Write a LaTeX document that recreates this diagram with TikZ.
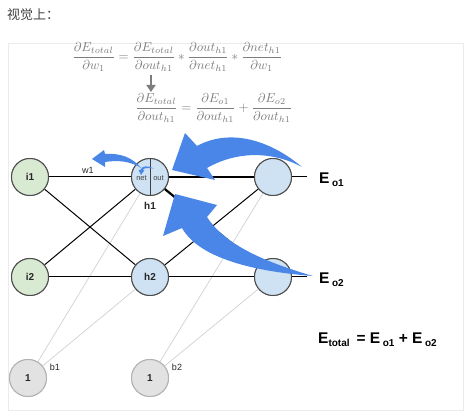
\documentclass[tikz,border=0pt]{standalone}
\usepackage{fontspec}
\setsansfont{Liberation Sans}
\newfontfamily\cjk{Noto Sans CJK SC}
\usepackage{amsmath}
\usetikzlibrary{arrows.meta}
\definecolor{ablue}{RGB}{74,134,232}
\definecolor{ngreen}{RGB}{217,234,211}
\definecolor{nblue}{RGB}{207,226,243}
\definecolor{ngray}{RGB}{226,226,226}
\definecolor{eqgray}{RGB}{125,125,125}
\tikzset{
  neuron/.style={circle, minimum size=37pt, inner sep=0pt, draw=black!70, line width=1pt,
    font=\sffamily\bfseries\fontsize{10}{10}\selectfont, text=black!85},
  inn/.style={neuron, fill=ngreen},
  hid/.style={neuron, fill=nblue},
  bias/.style={neuron, fill=ngray, draw=black!30},
  edge/.style={black, line width=1pt},
  thickedge/.style={black, line width=2.2pt},
  biasedge/.style={black!18, line width=0.7pt},
  lbl/.style={font=\sffamily\fontsize{9}{9}\selectfont, text=black!85, inner sep=1pt},
  blbl/.style={font=\sffamily\bfseries\fontsize{10}{10}\selectfont, text=black!85, inner sep=1pt},
  bigE/.style={font=\sffamily\bfseries\fontsize{15.5}{16}\selectfont, inner sep=0pt, anchor=base west},
  eqn/.style={text=eqgray, inner sep=0pt, anchor=west},
  bluearrow/.style={fill=ablue, draw=none}
}
\newcommand{\sbs}[1]{\raisebox{-2.5pt}{\fontsize{10}{10}\selectfont #1}}
\begin{document}
\begin{tikzpicture}[x=1pt,y=-1pt]
\useasboundingbox (0,0) rectangle (474,419);
% panel
\draw[black!8, fill=white, line width=0.8pt] (8,43) rectangle (463,410);
% title
\node[anchor=west, inner sep=0pt, font=\cjk\fontsize{13}{13}\selectfont, text=black!75] (title) at (7,15) {视觉上：};
% equations
\node[eqn] (eq1) at (72,57) {\resizebox{210pt}{!}{$\displaystyle \frac{\partial E_{total}}{\partial w_1} = \frac{\partial E_{total}}{\partial out_{h1}} * \frac{\partial out_{h1}}{\partial net_{h1}} * \frac{\partial net_{h1}}{\partial w_1}$}};
\node[eqn] (eq2) at (135,108) {\resizebox{157pt}{!}{$\displaystyle \frac{\partial E_{total}}{\partial out_{h1}} = \frac{\partial E_{o1}}{\partial out_{h1}} + \frac{\partial E_{o2}}{\partial out_{h1}}$}};
\coordinate (da) at (151,75);
\coordinate (db) at (151,92);
\draw[eqgray, line width=2.2pt, -{Triangle[length=7pt,width=9pt]}] (da) -- (db);

% nodes
\node[inn] (i1) at (30,177) {i1};
\node[inn] (i2) at (30,277) {i2};
\node[hid] (h1) at (150,177) {};
\node[hid] (h2) at (150,277) {h2};
\node[hid] (o1) at (273,177) {};
\node[hid] (o2) at (273,277) {};
\node[bias] (b1) at (28,378) {1};
\node[bias] (b2) at (150,378) {1};
\coordinate (out1) at (307,177);
\coordinate (out2) at (307,277);

% edges
\draw[biasedge] (b1) -- (h1);
\draw[biasedge] (b1) -- (h2);
\draw[biasedge] (b2) -- (o1);
\draw[biasedge] (b2) -- (o2);
\draw[edge] (i1) -- (h1);
\draw[edge] (i1) -- (h2);
\draw[edge] (i2) -- (h1);
\draw[edge] (i2) -- (h2);
\draw[thickedge] (h1) -- (o1);
\draw[thickedge] (h1) -- (o2);
\draw[edge] (h2) -- (o1);
\draw[edge] (h2) -- (o2);
\draw[edge] (o1) -- (out1);
\draw[edge] (o2) -- (out2);

% redraw nodes on top of edges
\node[inn] at (i1) {i1};
\node[inn] at (i2) {i2};
\node[hid] at (h1) {};
\node[hid] at (h2) {h2};
\node[hid] at (o1) {};
\node[hid] at (o2) {};
\node[bias] at (b1) {1};
\node[bias] at (b2) {1};

% h1 internals
\draw[black!75, line width=1pt] (h1.north) -- (h1.south);
\node[font=\sffamily\fontsize{7.5}{8}\selectfont, text=black!75, inner sep=0pt] (net) at (141.5,178) {net};
\node[font=\sffamily\fontsize{7.5}{8}\selectfont, text=black!75, inner sep=0pt] (out) at (158.5,178) {out};

% labels
\node[lbl] (w1) at (88,170) {w1};
\node[blbl] (h1l) at (150,206) {h1};
\node[lbl] (b1l) at (55,367) {b1};
\node[lbl] (b2l) at (177,367) {b2};
\node[bigE] (eo1) at (319,184) {E\,\sbs{o1}};
\node[bigE] (eo2) at (319,284) {E\,\sbs{o2}};
\node[bigE] (etot) at (318,344) {E\sbs{total}\, = E\,\sbs{o1} + E\,\sbs{o2}};

% blue arrows
\fill[bluearrow] (302,167) .. controls (270,140) and (230,128) .. (197,146) -- (185,133) -- (172,170) -- (215,180) -- (207,168) .. controls (235,152) and (270,150) .. (302,167) -- cycle;
\fill[bluearrow] (313,276) .. controls (260,272) and (200,260) .. (182,228) -- (163,236) -- (175,194) -- (217,205) -- (207,217) .. controls (225,245) and (265,262) .. (313,276) -- cycle;
\fill[bluearrow] (141,168) .. controls (132,157) and (120,153) .. (105,154) -- (104,150) -- (92,159) -- (105,167) -- (105,162) .. controls (118,160) and (130,161) .. (141,168) -- cycle;
\fill[bluearrow] (154,168.5) .. controls (148,165) and (141,166) .. (140.5,170) -- (138.5,170) -- (141,175) -- (144.5,170) -- (142.5,170) .. controls (143,168) and (148,167.5) .. (154,168.5) -- cycle;
\end{tikzpicture}
\end{document}
